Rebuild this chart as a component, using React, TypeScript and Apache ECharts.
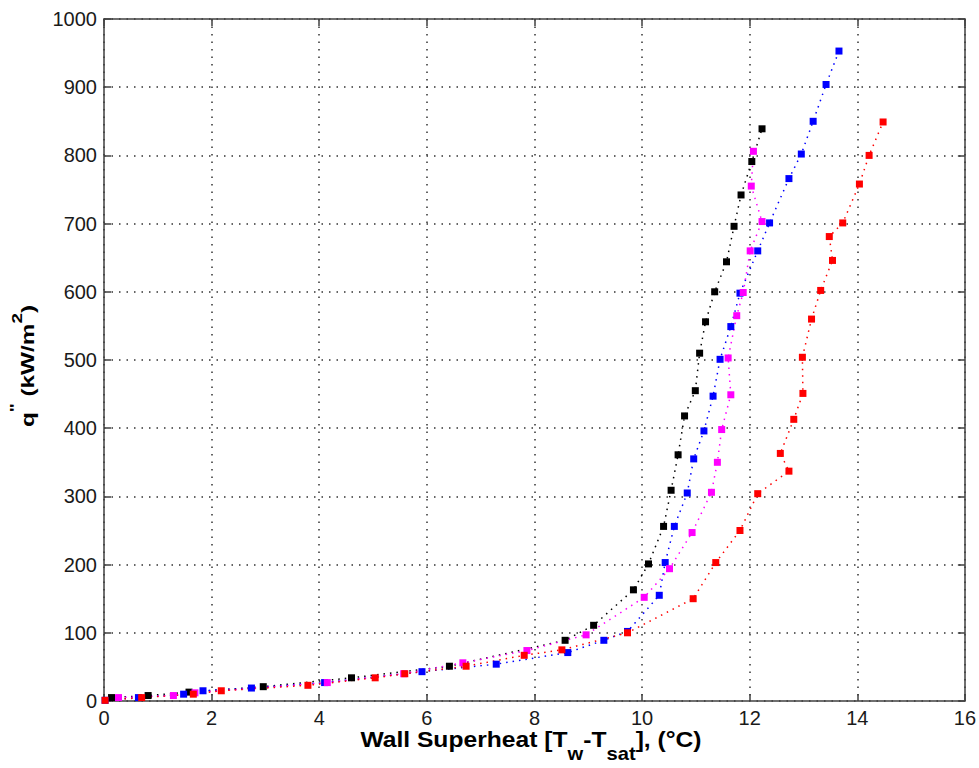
import React, { useEffect, useRef } from "react";
import * as echarts from "echarts";

// Wall superheat (°C) vs heat flux (kW/m²) for four boiling runs
const blackX = [0.14, 0.82, 1.58, 2.96, 4.6, 6.42, 8.57, 9.1, 9.84, 10.12, 10.4, 10.54, 10.67, 10.79, 10.99, 11.07, 11.18, 11.35, 11.57, 11.71, 11.84, 12.04, 12.23];
const blackY = [5, 8, 13, 21, 34, 51, 89, 111, 163, 201, 256, 309, 361, 418, 455, 510, 556, 600, 644, 696, 742, 791, 839];

const blueX = [0.02, 0.64, 1.48, 1.84, 2.74, 4.1, 5.91, 7.29, 8.62, 9.29, 9.73, 10.32, 10.43, 10.6, 10.84, 10.96, 11.15, 11.32, 11.45, 11.65, 11.82, 12.15, 12.37, 12.73, 12.96, 13.18, 13.42, 13.66];
const blueY = [1, 5, 10, 15, 19, 27, 43, 54, 71, 89, 102, 155, 203, 256, 305, 355, 396, 447, 501, 549, 598, 660, 701, 766, 802, 850, 904, 953];

const magentaX = [0.27, 1.29, 1.69, 4.15, 5.57, 6.67, 7.86, 8.96, 10.04, 10.51, 10.93, 11.29, 11.4, 11.48, 11.65, 11.6, 11.76, 11.88, 12.01, 12.23, 12.03, 12.07];
const magentaY = [5, 8, 12, 27, 40, 56, 74, 97, 152, 194, 247, 306, 350, 398, 449, 503, 565, 599, 660, 703, 755, 806];

const redX = [0.02, 0.7, 1.66, 2.18, 3.79, 5.04, 5.59, 6.73, 7.81, 8.51, 9.73, 10.95, 11.37, 11.82, 12.15, 12.73, 12.57, 12.82, 12.99, 12.98, 13.15, 13.32, 13.54, 13.48, 13.73, 14.04, 14.22, 14.48];
const redY = [1, 5, 10, 15, 23, 34, 40, 51, 67, 75, 100, 150, 203, 250, 304, 337, 363, 413, 451, 504, 560, 602, 646, 681, 701, 758, 800, 849];

const xTicks = [0, 2, 4, 6, 8, 10, 12, 14, 16];
const yTicks = [0, 100, 200, 300, 400, 500, 600, 700, 800, 900, 1000];

const runs = [
  { name: "black", color: "#000000", x: blackX, y: blackY },
  { name: "blue", color: "#0000ff", x: blueX, y: blueY },
  { name: "magenta", color: "#ff00ff", x: magentaX, y: magentaY },
  { name: "red", color: "#ff0000", x: redX, y: redY },
];

const FONT_NAME = "Liberation Sans";
const FONT = "'Liberation Sans', Arial, sans-serif";
const FRAME = "#404040";

// axis titles, split into runs of normal / raised / lowered text
// mid: position of the run's text centre across the reading direction
const xTitlePieces = [
  { text: "Wall Superheat [T", size: 22, mid: 739.5 },
  { text: "w", size: 18, mid: 753.5 },
  { text: "-T", size: 22, mid: 739.5 },
  { text: "sat", size: 18, mid: 753.5 },
  { text: "], (°C)", size: 22, mid: 739.5 },
];
const yTitlePieces = [
  { text: "q", size: 18, mid: 28.5 },
  { text: "\"", size: 14, mid: 15.5 },
  { text: " (kW/m", size: 18, mid: 28.5 },
  { text: "2", size: 14, mid: 17 },
  { text: ")", size: 18, mid: 28.5 },
];

function textWidth(text: string, size: number): number {
  const ctx = document.createElement("canvas").getContext("2d");
  if (!ctx) return text.length * size * 0.6;
  ctx.font = `bold ${size}px '${FONT_NAME}'`;
  return ctx.measureText(text).width;
}

function titleRun(
  pieces: { text: string; size: number; mid: number }[],
  center: number,
  stretch: number,
  vertical: boolean
) {
  const widths = pieces.map((p) => textWidth(p.text, p.size) * stretch);
  const total = widths.reduce((a, b) => a + b, 0);
  let cursor = vertical ? center + total / 2 : center - total / 2;
  return pieces.map((p, i) => {
    const el = {
      type: "text",
      x: vertical ? p.mid : cursor,
      y: vertical ? cursor : p.mid,
      rotation: vertical ? Math.PI / 2 : 0,
      scaleX: stretch,
      style: {
        text: p.text,
        fontSize: p.size,
        fontWeight: "bold",
        fontFamily: FONT,
        fill: "#000",
        align: "left",
        verticalAlign: "middle",
      },
    };
    cursor += vertical ? -widths[i] : widths[i];
    return el;
  });
}

export default function App() {
  const ref = useRef<HTMLDivElement>(null);

  useEffect(() => {
    if (!ref.current) return;
    const chart = echarts.init(ref.current, undefined, { renderer: "svg" });

    const grid = { left: 104, right: 13, top: 19, bottom: 67 };

    const baseAxis = {
      axisLine: { show: true, onZero: false, lineStyle: { color: FRAME, width: 1.5 } },
      axisTick: { show: true, inside: true, length: 7, lineStyle: { color: FRAME, width: 1.5 } },
      splitLine: { show: false },
    };
    const gridLine = { show: true, lineStyle: { color: "#333", type: [1.5, 6], width: 1.5 } };
    const tickLabel = {
      color: "#1a1a1a",
      fontSize: 20,
      fontFamily: FONT,
      margin: 7,
      formatter: (v: number) => String(v),
    };

    chart.setOption({
      animation: false,
      backgroundColor: "#ffffff",
      grid,
      xAxis: [
        {
          ...baseAxis,
          type: "value",
          min: xTicks[0],
          max: xTicks[xTicks.length - 1],
          interval: 2,
          position: "bottom",
          axisLabel: tickLabel,
          splitLine: gridLine,
        },
        {
          ...baseAxis,
          type: "value",
          min: xTicks[0],
          max: xTicks[xTicks.length - 1],
          interval: 2,
          position: "top",
          axisLabel: { show: false },
        },
      ],
      yAxis: [
        {
          ...baseAxis,
          type: "value",
          min: yTicks[0],
          max: yTicks[yTicks.length - 1],
          interval: 100,
          position: "left",
          axisLabel: tickLabel,
          splitLine: gridLine,
        },
        {
          ...baseAxis,
          type: "value",
          min: yTicks[0],
          max: yTicks[yTicks.length - 1],
          interval: 100,
          position: "right",
          axisLabel: { show: false },
        },
      ],
      graphic: [
        ...titleRun(xTitlePieces, 531, 1.12, false),
        ...titleRun(yTitlePieces, 366, 1.35, true),
      ],
      series: runs.map((r) => ({
        name: r.name,
        type: "line",
        xAxisIndex: 0,
        yAxisIndex: 0,
        data: r.x.map((v, i) => [v, r.y[i]]),
        symbol: "rect",
        symbolSize: 7,
        showSymbol: true,
        itemStyle: { color: r.color },
        lineStyle: { color: r.color, width: 1.5, type: [1.5, 5] },
        clip: false,
      })),
    });

    return () => chart.dispose();
  }, []);

  return <div ref={ref} style={{ width: 979, height: 768, position: "absolute", left: 0, top: 0 }} />;
}
